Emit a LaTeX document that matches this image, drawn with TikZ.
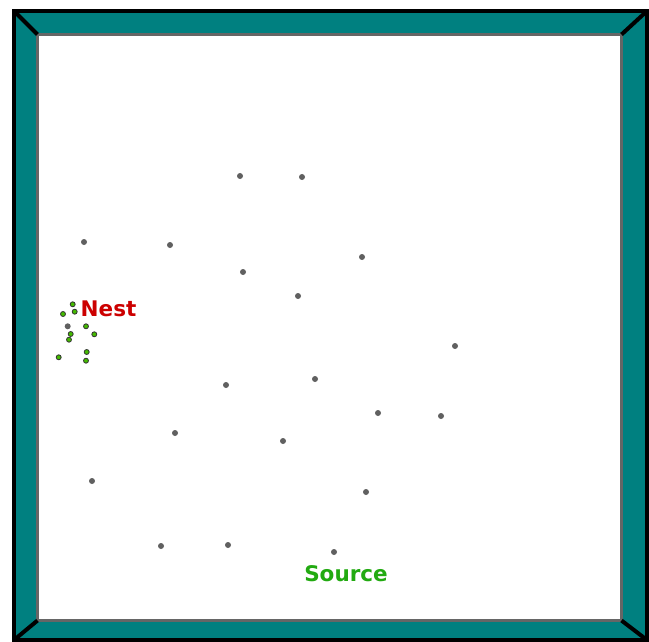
\documentclass[tikz,border=0pt]{standalone}
\usepackage{fontspec}
\setmainfont{DejaVu Sans}
\definecolor{wallteal}{HTML}{008080}
\definecolor{dotgray}{HTML}{606060}
\definecolor{nestred}{HTML}{CC0000}
\definecolor{srcgreen}{HTML}{22AA11}
\definecolor{antgreen}{HTML}{44BB00}
\begin{document}
\begin{tikzpicture}[x=1pt,y=-1pt,
  obj/.style={circle,fill=dotgray,inner sep=0pt,minimum size=6pt},
  ant/.style={circle,fill=antgreen,draw=black!80,line width=0.8pt,inner sep=0pt,minimum size=5pt},
  lbl/.style={font=\bfseries\fontsize{21.5}{21.5}\selectfont,inner sep=0pt}]
\useasboundingbox (0,0) rectangle (649,642);
% walls
\coordinate (o1) at (14,11); \coordinate (o2) at (647,11);
\coordinate (o3) at (647,640); \coordinate (o4) at (14,640);
\coordinate (i1) at (37.5,34.5); \coordinate (i2) at (621.5,34.5);
\coordinate (i3) at (621.5,620.5); \coordinate (i4) at (37.5,620.5);
\fill[wallteal] (o1) rectangle (o3);
\fill[white] (i1) rectangle (i3);
\draw[gray!80!black,line width=3pt] (i1) rectangle (i3);
\draw[black,line width=4pt] (o1) rectangle (o3);
\draw[black,line width=4pt] (o1) -- (i1) (o2) -- (i2) (o3) -- (i3) (o4) -- (i4);
% objects
\foreach \n/\x/\y in {a/240/176,b/302/177,c/84/242,d/170/245,e/243/272,f/362/257,
  g/298/296,h/455/346,i/226/385,j/315/379,k/378/413,l/441/416,m/175/433,n/283/441,
  o/92/481,p/366/492,q/161/546,r/228/545,s/334/552,t/67.7/326.3}
  \node[obj] (d\n) at (\x,\y) {};
% ants
\foreach \n/\x/\y in {1/72.7/304.3,2/63/314,3/74.7/311.7,4/86/326.3,5/70.7/334,
  6/94.3/334.3,7/69/339.7,8/86.7/352,9/58.7/357.3,10/86/360.7}
  \node[ant] (a\n) at (\x,\y) {};
% labels
\node[lbl,text=nestred,anchor=west] (nest) at (80.5,309) {Nest};
\node[lbl,text=srcgreen] (src) at (346,574) {Source};
\end{tikzpicture}
\end{document}
